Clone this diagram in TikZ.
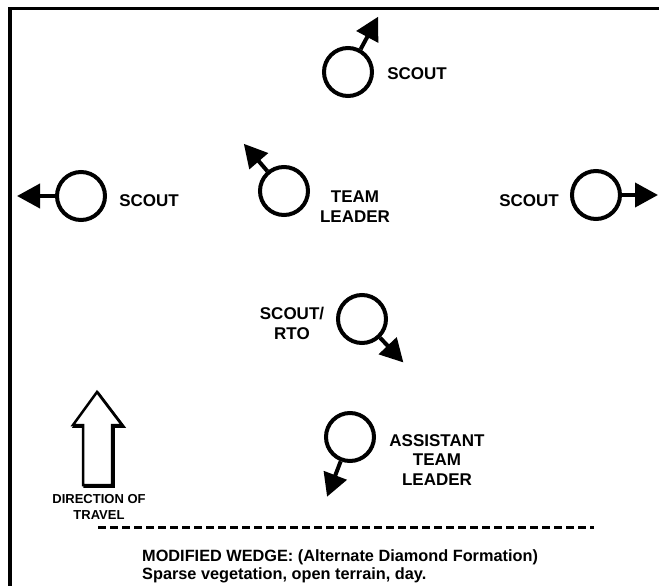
\documentclass[tikz,border=0pt]{standalone}
\usepackage{fontspec}
\setmainfont{Liberation Sans}
\usetikzlibrary{arrows.meta,calc}
\begin{document}
\begin{tikzpicture}[x=1pt,y=-1pt,
  man/.style={circle,draw,line width=4pt,minimum size=48pt,inner sep=0pt},
  lbl/.style={font=\fontsize{17}{19.5}\selectfont\bfseries,inner sep=0pt,align=center},
  facing/.style={line width=4pt,-{Triangle[length=23pt,width=24pt]}},
  captxt/.style={font=\fontsize{16.3}{18}\selectfont\bfseries,inner sep=0pt,anchor=base west},
]
\fill[white] (0,0) rectangle (659,586);
\useasboundingbox (0,0) rectangle (659,586);
% frame
\draw[line width=3.5pt] (10,586) -- (10,8.5) -- (659,8.5);
% soldiers
\node[man] (s1) at (348,72) {};
\node[man] (s2) at (81,196) {};
\node[man] (tl) at (284,191) {};
\node[man] (s3) at (596,195) {};
\node[man] (rto) at (362,319) {};
\node[man] (atl) at (350,437) {};
\coordinate (t1) at ($(s1.center)+(61.4:63pt)$);
\coordinate (t2) at ($(s2.center)+(180:64pt)$);
\coordinate (t3) at ($(tl.center)+(130.4:62pt)$);
\coordinate (t4) at ($(s3.center)+(0:62pt)$);
\coordinate (t5) at ($(rto.center)+(-46.4:60pt)$);
\coordinate (t6) at ($(atl.center)+(-111:64pt)$);
\draw[facing] (s1.61.4) -- (t1);
\draw[facing] (s2.180) -- (t2);
\draw[facing] (tl.130.4) -- (t3);
\draw[facing] (s3.0) -- (t4);
\draw[facing] (rto.-46.4) -- (t5);
\draw[facing] (atl.-111) -- (t6);
% labels
\node[lbl] (l1) at (417,74) {SCOUT};
\node[lbl] (l2) at (149,201) {SCOUT};
\node[lbl] (l3) at (355,206.5) {TEAM\\LEADER};
\node[lbl] (l4) at (529,201) {SCOUT};
\node[lbl] (l5) at (292,323.5) {SCOUT/\\RTO};
\node[lbl] (l6) at (437,460) {ASSISTANT\\TEAM\\LEADER};
% direction of travel
\draw[line width=2.5pt, line join=miter, shift={(1.5,1.5)}] (97,392) -- (122,425) -- (112,425) -- (112,485) -- (83,485) -- (83,425) -- (73,425) -- cycle;
\filldraw[fill=white, line width=2.5pt, line join=miter] (97,392) -- (122,425) -- (112,425) -- (112,485) -- (83,485) -- (83,425) -- (73,425) -- cycle;
\node[font=\fontsize{13}{16}\selectfont\bfseries,inner sep=0pt,align=center] (dot) at (99,507) {DIRECTION OF\\TRAVEL};
% dashed line
\draw[line width=3pt, dash pattern=on 8pt off 4pt] (98,527) -- (594,527);
% caption
\node[captxt] (c1) at (142,561) {MODIFIED WEDGE: (Alternate Diamond Formation)};
\node[captxt] (c2) at (142,579) {Sparse vegetation, open terrain, day.};
\end{tikzpicture}
\end{document}
